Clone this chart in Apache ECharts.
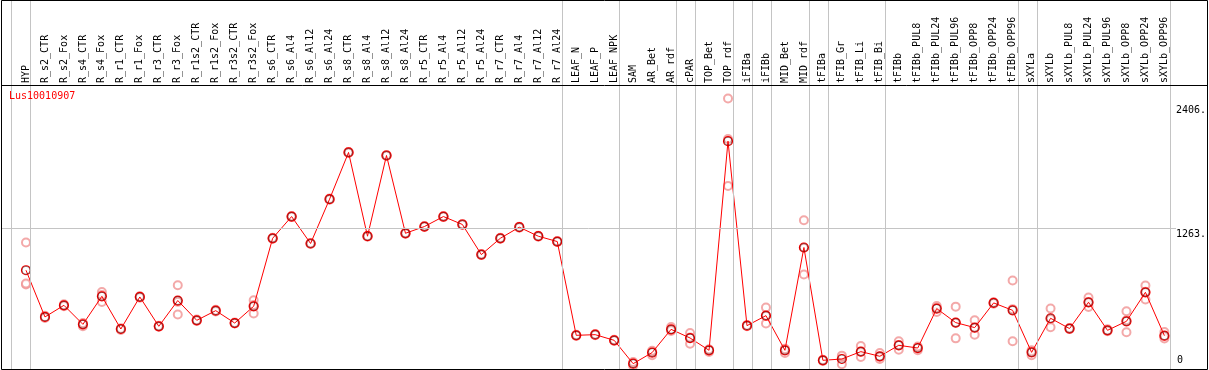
<!DOCTYPE html>
<html>
<head>
<meta charset="utf-8">
<script src="https://cdn.jsdelivr.net/npm/echarts@6/dist/echarts.min.js"></script>
<style>
html,body{margin:0;padding:0;background:#fff;}
#chart{width:1209px;height:370px;}
</style>
</head>
<body>
<div id="chart"></div>
<script>
const geneName = 'Lus10010907';
const categories = ['HYP','R_s2_CTR','R_s2_Fox','R_s4_CTR','R_s4_Fox','R_r1_CTR','R_r1_Fox','R_r3_CTR','R_r3_Fox',
  'R_r1s2_CTR','R_r1s2_Fox','R_r3s2_CTR','R_r3s2_Fox','R_s6_CTR','R_s6_Al4','R_s6_Al12','R_s6_Al24',
  'R_s8_CTR','R_s8_Al4','R_s8_Al12','R_s8_Al24','R_r5_CTR','R_r5_Al4','R_r5_Al12','R_r5_Al24',
  'R_r7_CTR','R_r7_Al4','R_r7_Al12','R_r7_Al24','LEAF_N','LEAF_P','LEAF_NPK','SAM','AR_Bet','AR_rdf',
  'cPAR','TOP_Bet','TOP_rdf','iFIBa','iFIBb','MID_Bet','MID_rdf','tFIBa','tFIB_Gr','tFIB_Li','tFIB_Bi',
  'tFIBb','tFIBb_PUL8','tFIBb_PUL24','tFIBb_PUL96','tFIBb_OPP8','tFIBb_OPP24','tFIBb_OPP96',
  'sXYLa','sXYLb','sXYLb_PUL8','sXYLb_PUL24','sXYLb_PUL96','sXYLb_OPP8','sXYLb_OPP24','sXYLb_OPP96'];
const meanValues = [879,449,556,381,639,338,633,363,600,418,507,393,547,1173,1373,1125,1533,1963,1192,1935,
  1219,1281,1373,1300,1023,1173,1275,1192,1143,280,286,234,19,121,335,255,142,2067,369,461,142,1088,
  50,62,130,87,188,163,526,397,351,578,510,123,437,342,584,326,409,676,277];
const rep1 = [1134,460,565,363,679,330,640,358,741,425,515,398,602,1168,1368,1120,1528,1958,1187,1930,
  1214,1276,1368,1295,1018,1168,1270,1187,1138,275,281,229,0,96,357,301,126,2460,364,535,157,1339,
  45,13,181,117,225,142,550,544,418,585,784,96,526,337,627,335,501,738,310];
const rep2 = [747,440,548,390,587,345,626,368,471,412,500,388,480,1178,1378,1130,1538,1968,1197,1940,
  1224,1286,1378,1305,1028,1178,1280,1197,1148,285,291,239,22,130,320,203,150,1655,374,388,117,839,
  55,80,80,62,148,170,495,252,286,570,225,142,354,347,541,318,308,609,250];
const rep3 = [756,447,555,390,651,339,633,363,588,418,506,393,559,1173,1373,1125,1533,1963,1192,1935,
  1219,1281,1373,1300,1023,1173,1275,1192,1143,280,286,234,35,137,328,261,150,2086,369,460,152,1086,
  50,93,129,82,191,177,533,395,349,579,521,131,431,342,584,325,418,681,271];
const yTickValues = [1263, 2406];
const yZeroTick = [0];
const separatorAfter = [-1,0,28,31,34,35,37,38,39,41,42,45,52,53,60];

const FONT = 'DejaVu Sans Mono';
const chart = echarts.init(document.getElementById('chart'), null, {renderer:'canvas'});
const repData = [];
[rep1, rep2, rep3].forEach(arr => arr.forEach((v, i) => repData.push([i, v])));

chart.setOption({
  animation: false,
  backgroundColor: '#fff',
  grid: [
    {left: 16.5, right: 33.5, top: 85, bottom: 1},
    {left: 1, right: 33, top: 0, bottom: 1}
  ],
  xAxis: [
    {gridIndex: 0, type: 'category', data: categories, position: 'top', boundaryGap: true,
     axisLine: {show: false}, axisTick: {show: false}, splitLine: {show: false},
     axisLabel: {rotate: 90, interval: 0, margin: 2, fontFamily: FONT, fontSize: 10, color: '#000'}},
    {gridIndex: 1, type: 'value', min: -25/19, max: 1150/19, show: false}
  ],
  yAxis: [
    {gridIndex: 0, type: 'value', position: 'right', min: -30, max: 2583.6,
     axisLine: {show: false}, axisTick: {show: false}, splitLine: {show: false},
     axisLabel: {customValues: yTickValues, formatter: v => v + '.', verticalAlign: 'top', align: 'left',
       margin: 2, padding: [1,0,0,0], fontFamily: FONT, fontSize: 10, color: '#000'}},
    {gridIndex: 0, type: 'value', position: 'right', min: -30, max: 2583.6,
     axisLine: {show: false}, axisTick: {show: false}, splitLine: {show: false},
     axisLabel: {customValues: yZeroTick, formatter: v => String(v), verticalAlign: 'bottom', align: 'left',
       margin: 3, fontFamily: FONT, fontSize: 10, color: '#000'}},
    {gridIndex: 1, type: 'value', min: -30, max: 3365.9, show: false}
  ],
  series: [
    {type: 'line', xAxisIndex: 1, yAxisIndex: 2, data: [], silent: true, z: 1,
     markLine: {silent: true, symbol: 'none', animation: false, label: {show: false},
       lineStyle: {color: '#c4c4c4', width: 1, type: 'solid'},
       data: separatorAfter.map(i => ({xAxis: i + 4.5/19})).concat([{yAxis: 1263}])}},
    {type: 'scatter', xAxisIndex: 0, yAxisIndex: 0, data: repData, symbol: 'emptyCircle', symbolSize: 8,
     clip: false, z: 2, itemStyle: {color: '#f09494', borderWidth: 1}},
    {type: 'line', xAxisIndex: 0, yAxisIndex: 0, data: meanValues, clip: false, z: 3,
     symbol: 'circle', symbolSize: 9, showAllSymbol: true,
     lineStyle: {color: '#ff0000', width: 1},
     itemStyle: {color: 'rgba(255,255,255,0)', borderColor: '#ff0000', borderWidth: 1.2}},
    {type: 'scatter', xAxisIndex: 0, yAxisIndex: 0, data: meanValues.map((v, i) => [i, v]), clip: false, z: 4,
     symbol: 'circle', symbolSize: 8,
     itemStyle: {color: 'rgba(255,255,255,0)', borderColor: 'rgba(40,0,0,0.6)', borderWidth: 1}}
  ],
  graphic: [
    {type: 'rect', z: 100, shape: {x: 1.5, y: 0.5, width: 1206, height: 369},
     style: {fill: null, stroke: '#000', lineWidth: 1}},
    {type: 'line', z: 100, shape: {x1: 1, y1: 85.5, x2: 1208, y2: 85.5}, style: {stroke: '#000', lineWidth: 1}},
    {type: 'text', z: 100, left: 9, top: 91, style: {text: geneName, fill: '#ff0000', font: '10px "DejaVu Sans Mono"'}}
  ]
});
</script>
</body>
</html>
